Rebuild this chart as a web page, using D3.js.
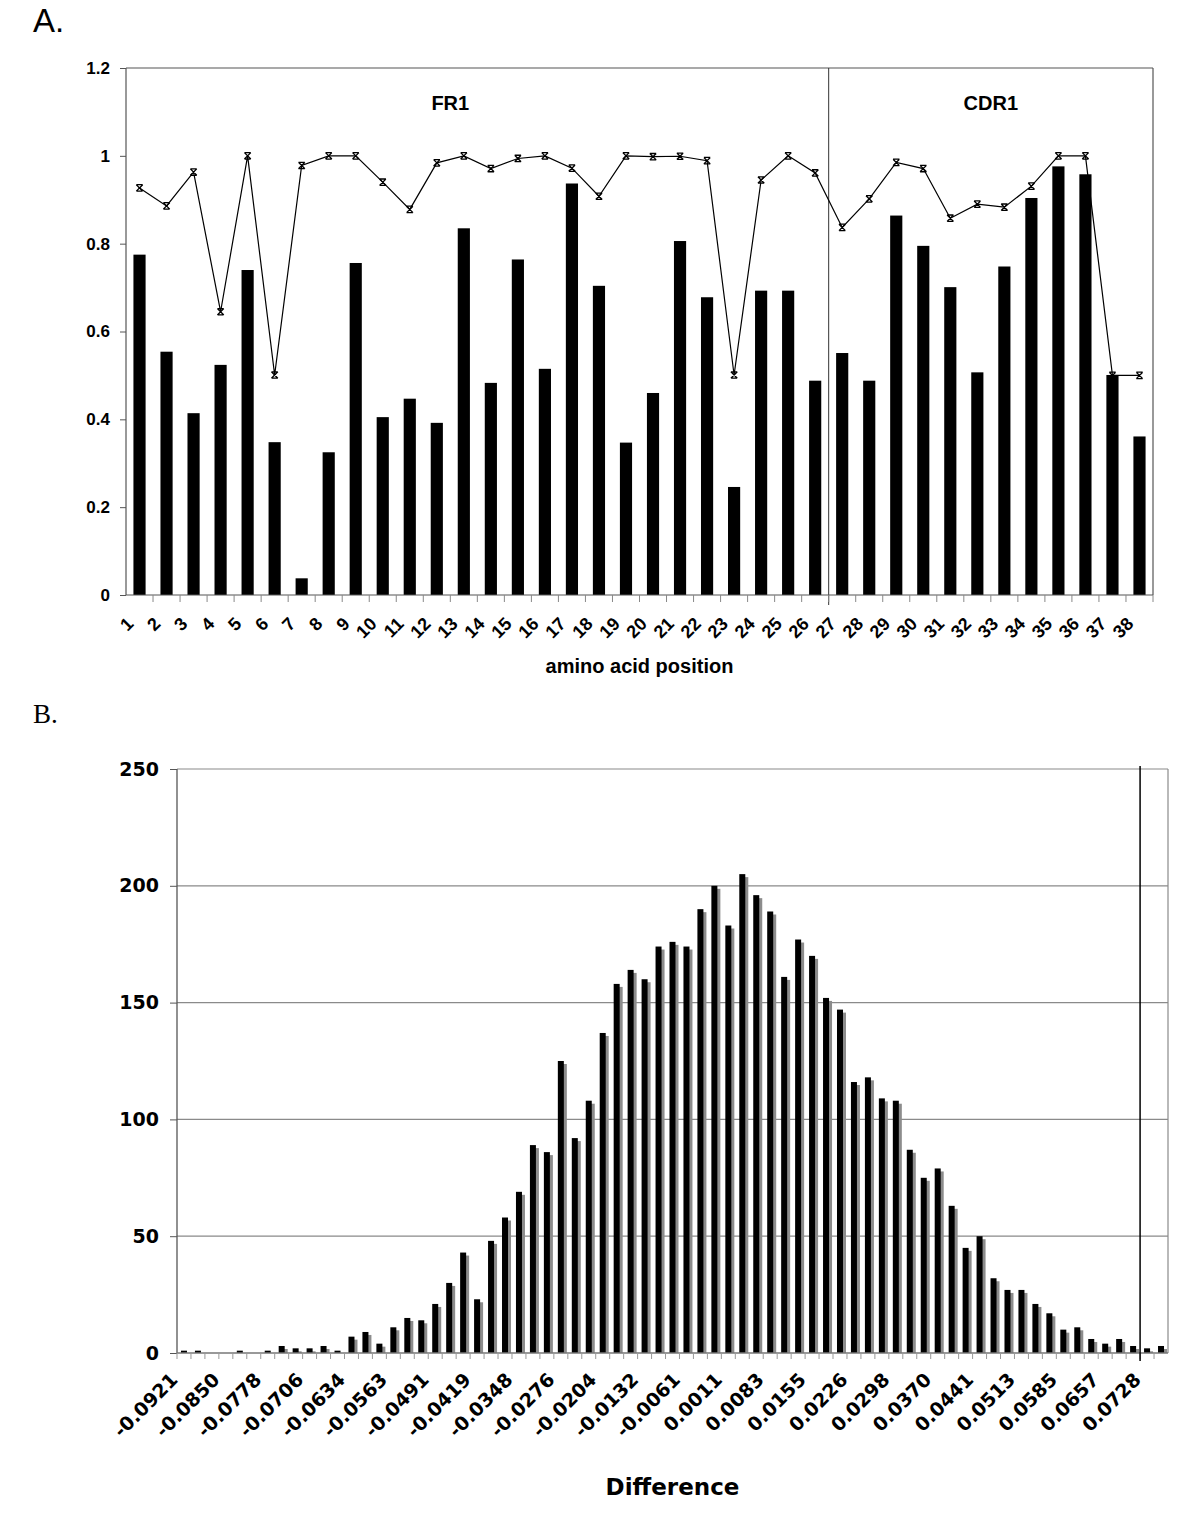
<!DOCTYPE html>
<html><head><meta charset="utf-8">
<script src="https://cdn.jsdelivr.net/npm/d3@7"></script>
<style>body{margin:0;background:#fff}</style>
</head><body>
<svg id="c" width="1200" height="1516"></svg>
<script>
// ---------- Panel A data ----------
const positions = [1,2,3,4,5,6,7,8,9,10,11,12,13,14,15,16,17,18,19,20,21,22,23,24,25,26,27,28,29,30,31,32,33,34,35,36,37,38];
const barValues = [0.775,0.554,0.414,0.524,0.740,0.348,0.038,0.325,0.756,0.405,0.447,0.392,0.835,0.483,0.764,0.515,0.937,0.704,0.347,0.460,0.806,0.678,0.246,0.693,0.693,0.488,0.551,0.488,0.864,0.795,0.701,0.507,0.748,0.904,0.976,0.958,0.501,0.361];
const lineValues = [0.927,0.886,0.963,0.645,1.0,0.501,0.978,1.0,1.0,0.940,0.878,0.984,1.0,0.971,0.994,1.0,0.972,0.908,1.0,0.998,0.999,0.989,0.501,0.945,1.0,0.961,0.837,0.902,0.985,0.971,0.858,0.890,0.883,0.931,1.0,1.0,0.5,0.5];
const yTicksA = [0,0.2,0.4,0.6,0.8,1,1.2];
const regionNames = ["FR1","CDR1"];
const regionBoundaryAfter = 26; // FR1 = 1..26, CDR1 = 27..38

// ---------- Panel B data ----------
const counts = [1,1,0,0,1,0,1,3,2,2,3,1,7,9,4,11,15,14,21,30,43,23,48,58,69,89,86,125,92,108,137,158,164,160,174,176,174,190,200,183,205,196,189,161,177,170,152,147,116,118,109,108,87,75,79,63,45,50,32,27,27,21,17,10,11,6,4,6,3,2,3];
const binLabels = ["-0.0921","-0.0850","-0.0778","-0.0706","-0.0634","-0.0563","-0.0491","-0.0419","-0.0348","-0.0276","-0.0204","-0.0132","-0.0061","0.0011","0.0083","0.0155","0.0226","0.0298","0.0370","0.0441","0.0513","0.0585","0.0657","0.0728"];
const labelEvery = 3;
const refLineBin = 69;
const yTicksB = [0,50,100,150,200,250];

const svg = d3.select("#c");

// ---------- Panel letters ----------
svg.append("text").attr("x",33).attr("y",32).attr("font-family","Liberation Sans, Arial, sans-serif")
  .attr("font-size",33).text("A.");
svg.append("text").attr("x",33).attr("y",723).attr("font-family","Liberation Serif, Times New Roman, serif")
  .attr("font-size",27).text("B.");

// ================= Panel A =================
(function(){
  const L=126,R=1153,T=68,B=595;
  const fA = "Liberation Sans, Arial, sans-serif";
  const x = d3.scaleBand().domain(positions).range([L,R]).padding(0);
  const y = d3.scaleLinear().domain([0,1.2]).range([B,T]);
  const g = svg.append("g");
  const bw = x.bandwidth()*0.45;

  // border
  g.append("line").attr("x1",L).attr("x2",R).attr("y1",T).attr("y2",T).attr("stroke","#555").attr("stroke-width",1.2);
  g.append("line").attr("x1",R).attr("x2",R).attr("y1",T).attr("y2",B).attr("stroke","#555").attr("stroke-width",1.2);

  // bars
  g.selectAll("rect.bar").data(positions).join("rect")
    .attr("x",d=>x(d)+x.bandwidth()/2-bw/2).attr("width",bw)
    .attr("y",(d,i)=>y(barValues[i])).attr("height",(d,i)=>B-y(barValues[i]))
    .attr("fill","#000");

  // region boundary
  const bx = x(regionBoundaryAfter)+x.bandwidth();
  g.append("line").attr("x1",bx).attr("x2",bx).attr("y1",T).attr("y2",B+10).attr("stroke","#333").attr("stroke-width",1);

  // line
  const line = d3.line().x(d=>x(d)+x.bandwidth()/2).y((d,i)=>y(lineValues[i]));
  g.append("path").datum(positions).attr("d",line).attr("fill","none").attr("stroke","#000").attr("stroke-width",1.2);
  const mk = g.selectAll("g.mk").data(positions).join("g")
    .attr("transform",(d,i)=>`translate(${x(d)+x.bandwidth()/2},${y(lineValues[i])})`);
  const s=3.2;
  mk.append("path").attr("d",`M${-s},${-s}L${s},${s}M${-s},${s}L${s},${-s}M${-s},${-s}L${s},${-s}M${-s},${s}L${s},${s}`)
    .attr("stroke","#000").attr("stroke-width",1.3).attr("fill","none");

  // axes
  g.append("line").attr("x1",L).attr("x2",L).attr("y1",T).attr("y2",B).attr("stroke","#555").attr("stroke-width",1.2);
  g.append("line").attr("x1",L).attr("x2",R).attr("y1",B).attr("y2",B).attr("stroke","#555").attr("stroke-width",1.2);
  const ya = d3.axisLeft(y).tickValues(yTicksA).tickSize(6).tickPadding(10).tickFormat(d=>String(+d.toFixed(1)));
  const yg = g.append("g").attr("transform",`translate(${L},0)`).call(ya);
  yg.select(".domain").remove();
  yg.selectAll(".tick line").attr("stroke","#555");
  yg.selectAll("text").attr("font-family",fA).attr("font-weight","bold").attr("font-size",17).attr("fill","#000");

  // category boundary ticks
  g.selectAll("line.xt").data(positions).join("line")
    .attr("x1",d=>x(d)+x.bandwidth()).attr("x2",d=>x(d)+x.bandwidth())
    .attr("y1",B).attr("y2",B+7).attr("stroke","#888").attr("stroke-width",1);
  g.selectAll("text.xl").data(positions).join("text")
    .attr("transform",d=>`translate(${x(d)+x.bandwidth()/2-5},${B+30}) rotate(-45)`)
    .attr("text-anchor","end").attr("font-family",fA).attr("font-weight","bold").attr("font-size",18)
    .text(d=>d);

  g.append("text").attr("x",(L+R)/2).attr("y",673).attr("text-anchor","middle")
    .attr("font-family",fA).attr("font-weight","bold").attr("font-size",20).text("amino acid position");

  g.append("text").attr("x",x(12)+x.bandwidth()).attr("y",110).attr("text-anchor","middle")
    .attr("font-family",fA).attr("font-weight","bold").attr("font-size",20).text(regionNames[0]);
  g.append("text").attr("x",(bx+R)/2).attr("y",110).attr("text-anchor","middle")
    .attr("font-family",fA).attr("font-weight","bold").attr("font-size",20).text(regionNames[1]);
})();

// ================= Panel B =================
(function(){
  const L=177,R=1168,T=769,B=1353;
  const fB = "DejaVu Sans, Verdana, sans-serif";
  const idx = counts.map((d,i)=>i);
  const x = d3.scaleBand().domain(idx).range([L,R]).padding(0);
  const y = d3.scaleLinear().domain([0,250]).range([B,T]);
  const g = svg.append("g");

  // gridlines
  g.selectAll("line.grid").data(yTicksB.filter(v=>v>0)).join("line")
    .attr("x1",L).attr("x2",R).attr("y1",d=>y(d)).attr("y2",d=>y(d))
    .attr("stroke","#8a8a8a").attr("stroke-width",1.2);
  g.append("line").attr("x1",R).attr("x2",R).attr("y1",T).attr("y2",B).attr("stroke","#8a8a8a").attr("stroke-width",1.2);

  // bars with shadow
  const bw = 6, sh = 3;
  const cx = i => x(i)+x.bandwidth()/2;
  g.selectAll("rect.sh").data(idx).join("rect")
    .attr("x",i=>cx(i)-bw/2+sh).attr("width",bw)
    .attr("y",i=>Math.min(y(counts[i])+sh,B)).attr("height",i=>Math.max(B-y(counts[i])-sh,0))
    .attr("fill","#8c8c8c");
  g.selectAll("rect.bar").data(idx).join("rect")
    .attr("x",i=>cx(i)-bw/2).attr("width",bw)
    .attr("y",i=>y(counts[i])).attr("height",i=>B-y(counts[i]))
    .attr("fill","#000");

  // axes
  g.append("line").attr("x1",L).attr("x2",L).attr("y1",T).attr("y2",B).attr("stroke","#555").attr("stroke-width",1.3);
  g.append("line").attr("x1",L).attr("x2",R).attr("y1",B).attr("y2",B).attr("stroke","#777").attr("stroke-width",1.3);
  const ya = d3.axisLeft(y).tickValues(yTicksB).tickSize(7).tickPadding(11);
  const yg = g.append("g").attr("transform",`translate(${L},0)`).call(ya);
  yg.select(".domain").remove();
  yg.selectAll(".tick line").attr("stroke","#555");
  yg.selectAll("text").attr("font-family",fB).attr("font-weight","bold").attr("font-size",19).attr("fill","#000");

  g.selectAll("line.xt").data(idx).join("line")
    .attr("x1",i=>x(i)).attr("x2",i=>x(i))
    .attr("y1",B).attr("y2",B+6).attr("stroke","#999").attr("stroke-width",1);

  // reference line
  const rx = x(refLineBin);
  g.append("line").attr("x1",rx).attr("x2",rx).attr("y1",T-3).attr("y2",B+8).attr("stroke","#000").attr("stroke-width",1.5);

  g.selectAll("text.xl").data(binLabels).join("text")
    .attr("transform",(d,k)=>`translate(${cx(k*labelEvery)-5},${B+28}) rotate(-45)`)
    .attr("text-anchor","end").attr("font-family",fB).attr("font-weight","bold").attr("font-size",19)
    .text(d=>d);

  g.append("text").attr("x",(L+R)/2).attr("y",1495).attr("text-anchor","middle")
    .attr("font-family",fB).attr("font-weight","bold").attr("font-size",23).text("Difference");
})();
</script>
</body></html>
